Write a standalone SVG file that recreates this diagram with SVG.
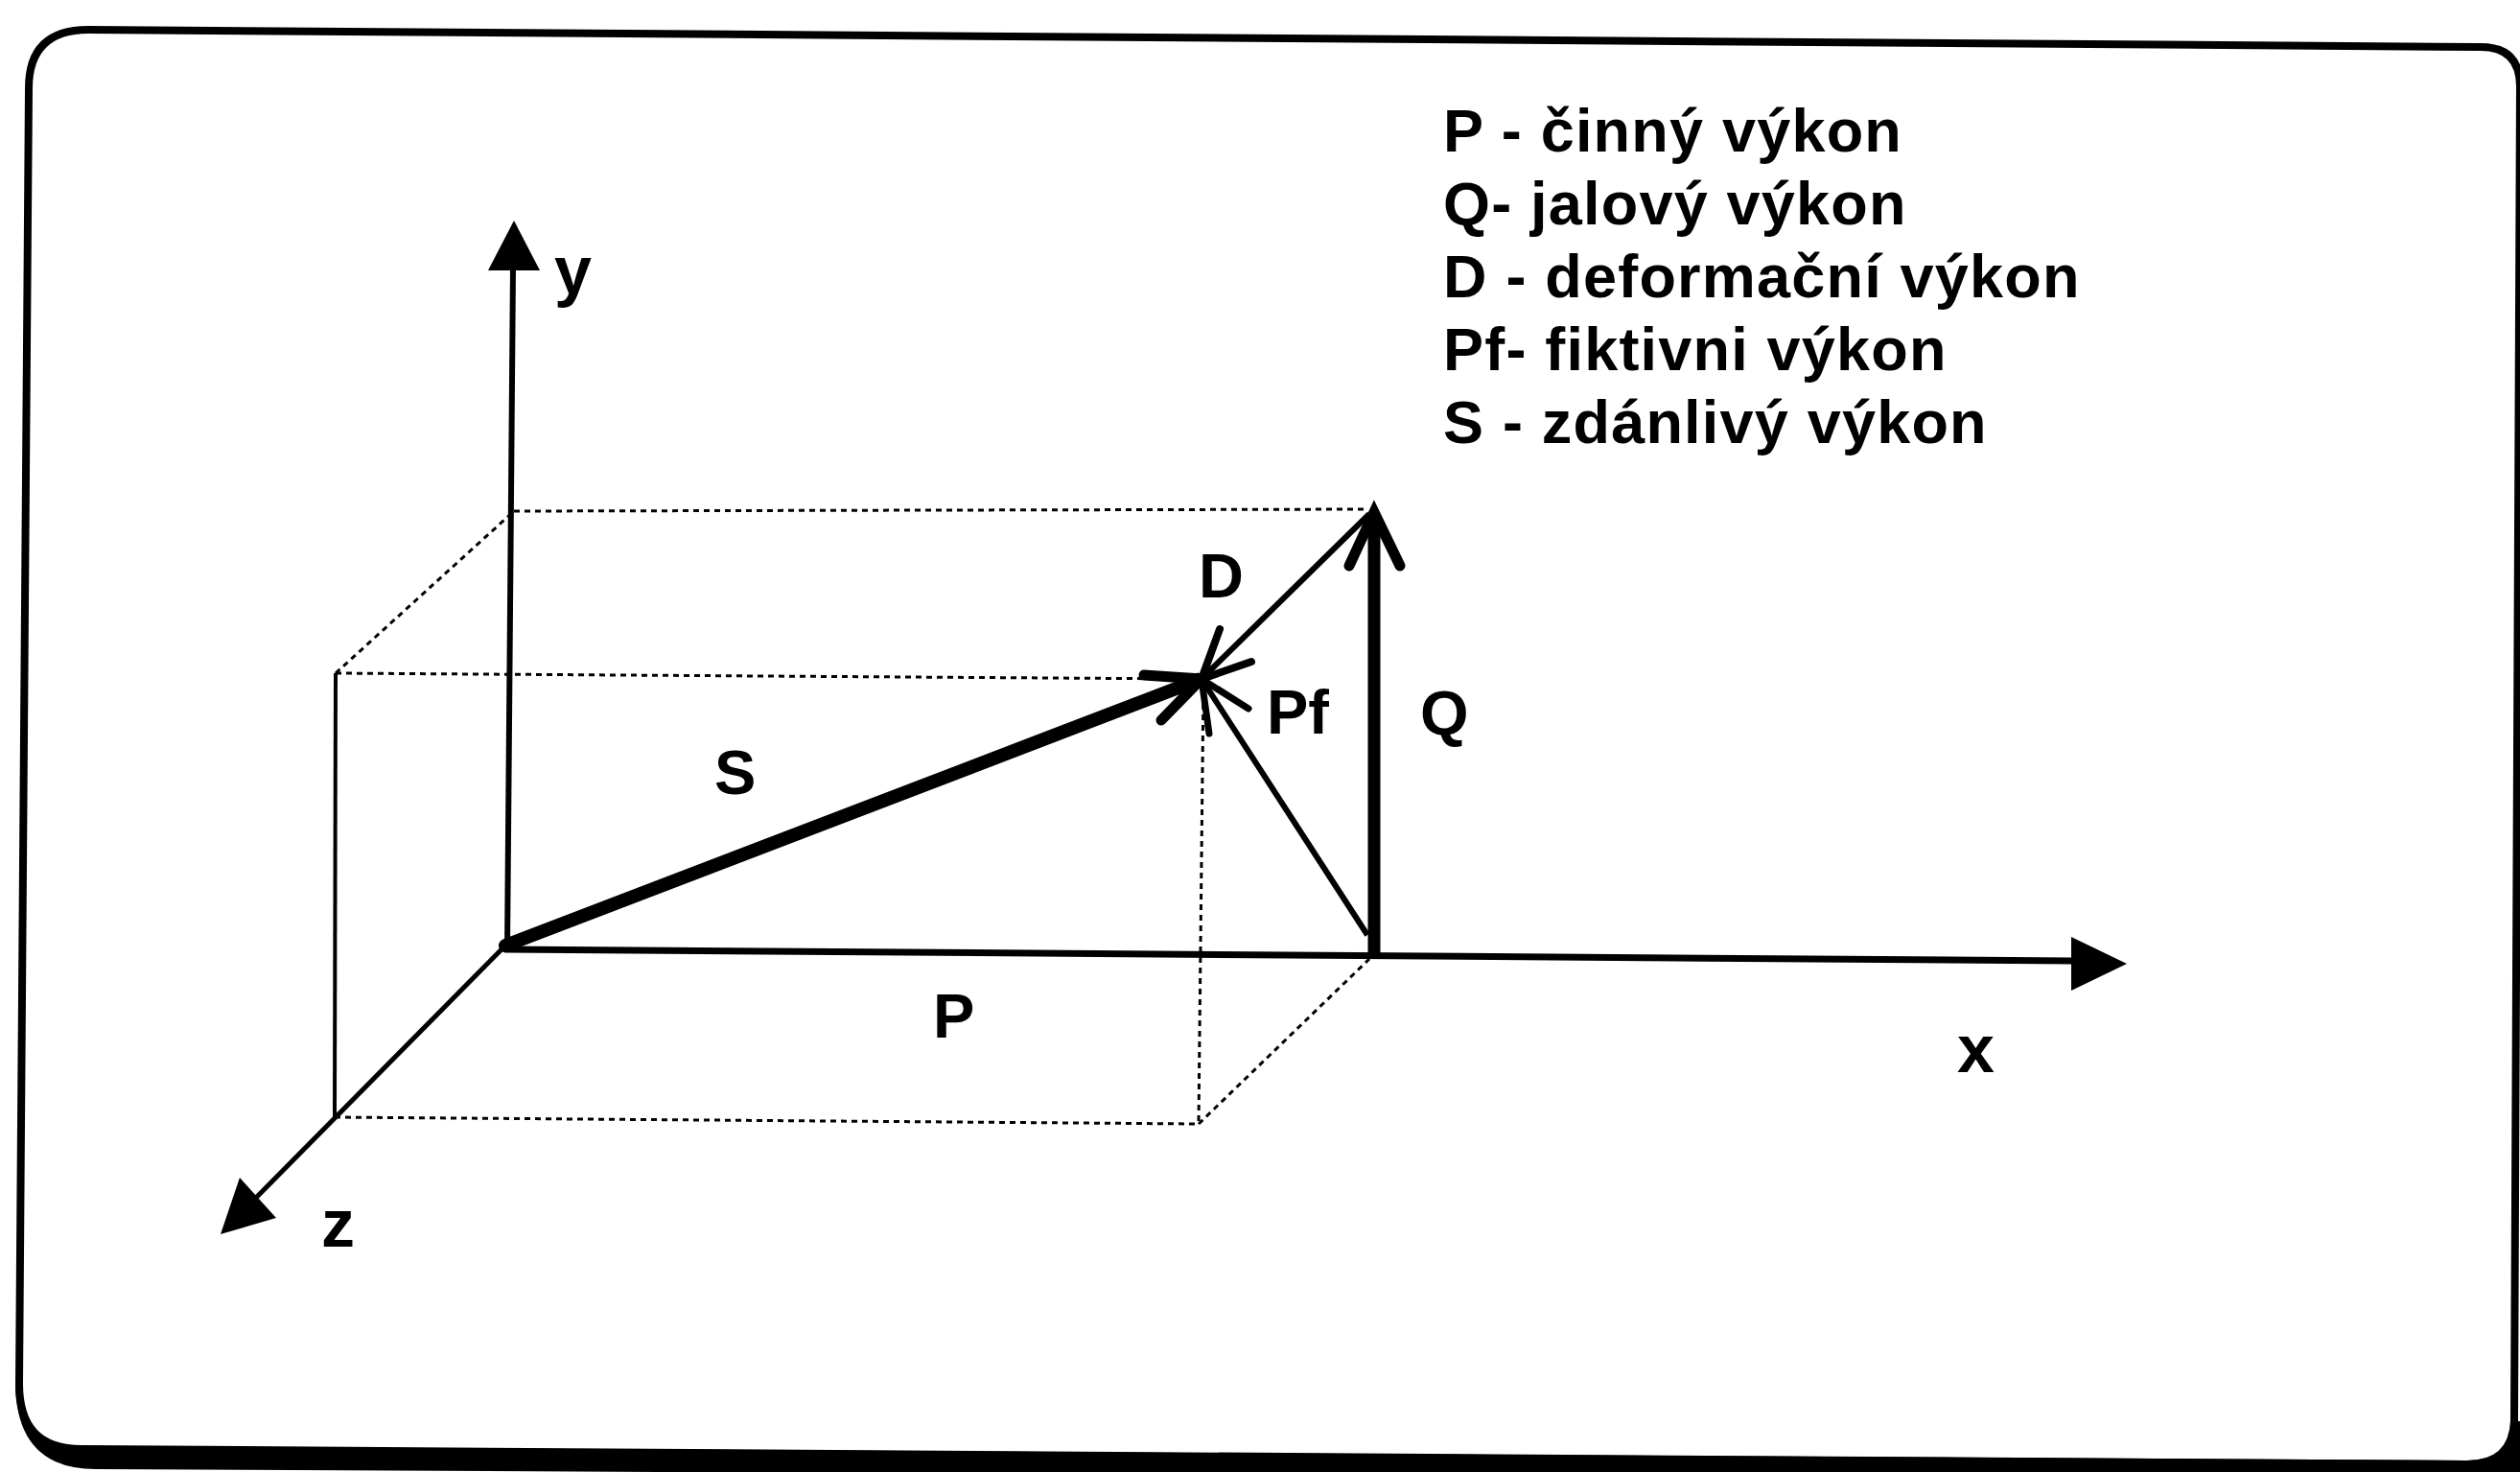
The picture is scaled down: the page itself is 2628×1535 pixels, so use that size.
<svg xmlns="http://www.w3.org/2000/svg" width="2628" height="1535" viewBox="0 0 2628 1535">
<style>
  .lbl { font-family: "Liberation Sans", Arial, sans-serif; font-weight: bold; fill: #000; }
  .leg { font-size: 63px; letter-spacing: 1.2px; }
  .vec { font-size: 65px; }
  .ax { font-size: 70px; }
  .dot { fill: none; stroke: #000; stroke-width: 3; stroke-dasharray: 6 5; }
  .thin { fill: none; stroke: #000; stroke-width: 4; }
  .axis { fill: none; stroke: #000; }
  .head { fill: #000; stroke: none; }
  .wing { fill: none; stroke: #000; stroke-linecap: round; stroke-linejoin: miter; }
</style>
<rect x="0" y="0" width="2628" height="1535" fill="#fff"/>
<g id="frame">
  <path d="M 30 92 Q 30 31 92 31 L 2587 49 Q 2628 49 2628 90 L 2622 1482 Q 2620 1527 2573 1527 L 85 1512 Q 20 1512 20 1443 Z" fill="none" stroke="#000" stroke-width="8"/>
  <path d="M 23 1443 Q 23 1507 85 1507 L 2573 1523 Q 2618 1523 2624 1482 L 2640 1482 L 2640 1545 L 100 1532 Q 17 1532 16 1443 Z" fill="#000" stroke="none"/>
</g>
<g id="box-lines">
  <line class="dot" x1="536" y1="533" x2="1425" y2="531"/>
  <line class="dot" x1="350" y1="702" x2="536" y2="533"/>
  <line class="dot" x1="350" y1="702" x2="1245" y2="708"/>
  <line class="thin" x1="350" y1="702" x2="349" y2="1165"/>
  <line class="dot" x1="349" y1="1165" x2="1250" y2="1172"/>
  <line class="dot" x1="1255" y1="712" x2="1250" y2="1172"/>
  <line class="dot" x1="1250" y1="1172" x2="1428" y2="1000"/>
</g>
<g id="connectors">
  <g id="axis-x">
    <line class="axis" x1="526" y1="990" x2="2162" y2="1002" stroke-width="7"/>
    <polygon class="head" points="2160,977 2218,1005 2160,1033"/>
  </g>
  <g id="axis-y">
    <line class="axis" x1="529" y1="990" x2="535" y2="278" stroke-width="6"/>
    <polygon class="head" points="509,282 536,230 563,282"/>
  </g>
  <g id="axis-z">
    <line class="axis" x1="527" y1="986" x2="262" y2="1254" stroke-width="5"/>
    <polygon class="head" points="230,1287 250,1228 288,1270"/>
  </g>
  <g id="vec-S">
    <line class="axis" x1="527" y1="986" x2="1250" y2="709" stroke-width="14" stroke-linecap="round"/>
    <polyline class="wing" points="1193,704 1253,708 1211,751" stroke-width="11"/>
  </g>
  <g id="vec-Q">
    <line class="axis" x1="1433" y1="1000" x2="1433" y2="540" stroke-width="13"/>
    <polyline class="wing" points="1407,590 1433,534 1460,590" stroke-width="11"/>
  </g>
  <g id="vec-D">
    <line class="axis" x1="1253" y1="708" x2="1428" y2="536" stroke-width="6"/>
    <polyline class="wing" points="1272,656 1253,708 1305,690" stroke-width="8"/>
  </g>
  <g id="vec-Pf">
    <line class="axis" x1="1253" y1="708" x2="1426" y2="975" stroke-width="6"/>
    <polyline class="wing" points="1302,739 1253,708 1261,765" stroke-width="7"/>
  </g>
</g>
<g id="labels">
  <text class="lbl ax" x="578" y="306">y</text>
  <text class="lbl ax" x="2041" y="1118">x</text>
  <text class="lbl ax" x="335" y="1300">z</text>
  <text class="lbl vec" x="745" y="828">S</text>
  <text class="lbl vec" x="973" y="1082">P</text>
  <text class="lbl vec" x="1250" y="623">D</text>
  <text class="lbl vec" x="1321" y="765">Pf</text>
  <text class="lbl vec" x="1481" y="766">Q</text>
</g>
<g id="legend">
  <text class="lbl leg" x="1505" y="158">P - činný výkon</text>
  <text class="lbl leg" x="1505" y="234">Q- jalový výkon</text>
  <text class="lbl leg" x="1505" y="310">D - deformační výkon</text>
  <text class="lbl leg" x="1505" y="386">Pf- fiktivni výkon</text>
  <text class="lbl leg" x="1505" y="462">S - zdánlivý výkon</text>
</g>
</svg>
